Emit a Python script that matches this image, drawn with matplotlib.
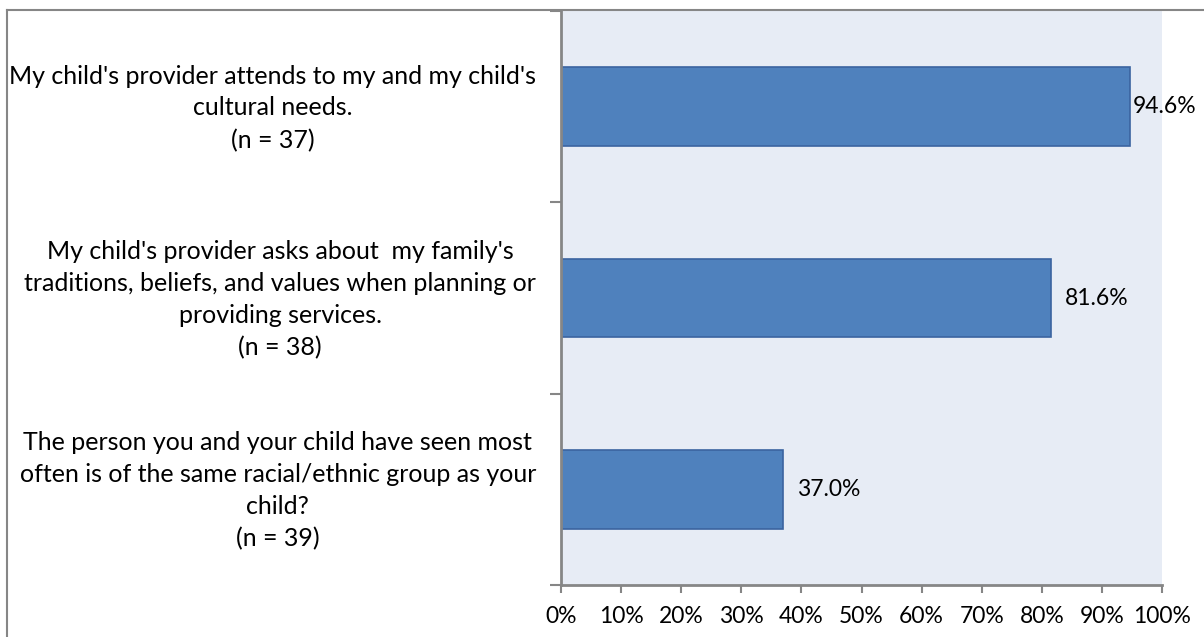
import matplotlib
matplotlib.use('Agg')
import matplotlib.pyplot as plt
import matplotlib.transforms as mtransforms
from matplotlib.lines import Line2D
from matplotlib.ticker import FixedLocator, PercentFormatter

questions = [
    "My child's provider attends to my and my child's\ncultural needs.\n(n = 37)",
    "My child's provider asks about  my family's\ntraditions, beliefs, and values when planning or\nproviding services.\n(n = 38)",
    "The person you and your child have seen most\noften is of the same racial/ethnic group as your\nchild?\n(n = 39)",
]
percents = [94.6, 81.6, 37.0]
xticks = [0, 10, 20, 30, 40, 50, 60, 70, 80, 90, 100]

BAR = '#4F81BD'
EDGE = '#3B64A0'
GRAY = '#868686'

plt.rcParams['font.family'] = ['Lato', 'DejaVu Sans']

fig = plt.figure(figsize=(12.04, 6.37), dpi=100)
ax = fig.add_axes([561/1204, 1 - 585/637, 601/1204, 574/637])
ax.set_facecolor('#E7ECF5')

ys = [2, 1, 0]
ax.barh(ys, percents, height=0.41, color=BAR, edgecolor=EDGE, linewidth=1.2)
ax.set_xlim(0, 100)
ax.set_ylim(-0.5, 2.5)

# data labels (first one squeezed in so it stays on the figure)
offsets = [2, 10, 10]
for y, v, off in zip(ys, percents, offsets):
    ax.annotate(f'{v:.1f}%', (v, y), xytext=(off, 0), textcoords='offset points',
                va='center', ha='left', fontsize=16.5, color='black')

ax.set_xticks(xticks)
ax.xaxis.set_major_formatter(PercentFormatter(decimals=0))
ax.tick_params(axis='x', length=6, width=1.5, color=GRAY, labelsize=16.5, pad=9)

ax.set_yticks(ys)
ax.set_yticklabels(questions, multialignment='center', fontsize=18, linespacing=1.47)
ax.tick_params(axis='y', which='major', length=0, pad=18)
ax.yaxis.set_minor_locator(FixedLocator([-0.5, 0.5, 1.5, 2.5]))
ax.tick_params(axis='y', which='minor', length=8, width=1.5, color=GRAY)
shift = mtransforms.ScaledTranslation(0, 5/100, fig.dpi_scale_trans)
for lab in ax.get_yticklabels():
    lab.set_transform(lab.get_transform() + shift)

for s in ['top', 'right']:
    ax.spines[s].set_visible(False)
for s in ['left', 'bottom']:
    ax.spines[s].set_color(GRAY)
    ax.spines[s].set_linewidth(2)

# outer frame of the chart
fig.add_artist(Line2D([7/1204, 1], [1 - 10/637, 1 - 10/637], color=GRAY, lw=1.5,
                      transform=fig.transFigure))
fig.add_artist(Line2D([7/1204, 7/1204], [0, 1 - 10/637], color=GRAY, lw=1.5,
                      transform=fig.transFigure))

fig.savefig('out.png', dpi=100)
